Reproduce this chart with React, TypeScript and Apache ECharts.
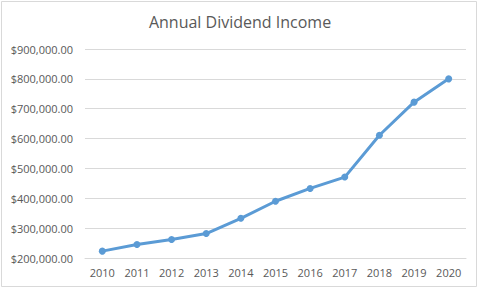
import React, { useEffect, useRef } from "react";
import * as echarts from "echarts";

const years = ["2010", "2011", "2012", "2013", "2014", "2015", "2016", "2017", "2018", "2019", "2020"];
const income = [223000, 245000, 262000, 282000, 333000, 390000, 433000, 471000, 611000, 722000, 800000];
const yMin = 200000;
const yMax = 900000;
const yStep = 100000;

export default function App() {
  const ref = useRef<HTMLDivElement>(null);
  useEffect(() => {
    const chart = echarts.init(ref.current!, null, { renderer: "svg" });
    const font = "'Open Sans', 'Noto Sans', sans-serif";
    chart.setOption({
      animation: false,
      backgroundColor: "#ffffff",
      title: {
        text: "Annual Dividend Income",
        left: "center",
        top: 9,
        textStyle: { fontFamily: font, fontSize: 16, fontWeight: "normal", color: "#595959" },
      },
      grid: { left: 85, right: 14, top: 49, bottom: 30 },
      xAxis: {
        type: "category",
        data: years,
        boundaryGap: true,
        axisLine: { show: true, lineStyle: { color: "#d9d9d9", width: 1 } },
        axisTick: { show: false },
        axisLabel: { color: "#595959", fontFamily: font, fontSize: 11, margin: 9 },
      },
      yAxis: {
        type: "value",
        min: yMin,
        max: yMax,
        interval: yStep,
        axisLine: { show: false },
        axisTick: { show: false },
        splitLine: { lineStyle: { color: "#d9d9d9", width: 1 } },
        axisLabel: {
          color: "#595959",
          fontFamily: font,
          fontSize: 11,
          margin: 12,
          formatter: (v: number) =>
            "$" + v.toLocaleString("en-US", { minimumFractionDigits: 2, maximumFractionDigits: 2 }),
        },
      },
      graphic: [
        {
          type: "rect",
          shape: { x: 1.5, y: 1.5, width: 475, height: 285 },
          style: { fill: "none", stroke: "#d9d9d9", lineWidth: 1 },
          z: -1,
        },
      ],
      series: [
        {
          type: "line",
          data: income,
          symbol: "circle",
          symbolSize: 7,
          itemStyle: { color: "#5B9BD5" },
          lineStyle: { color: "#5B9BD5", width: 3 },
        },
      ],
    });
    return () => chart.dispose();
  }, []);
  return (
    <div
      ref={ref}
      style={{ position: "fixed", left: 0, top: 0, width: 480, height: 288 }}
    />
  );
}
